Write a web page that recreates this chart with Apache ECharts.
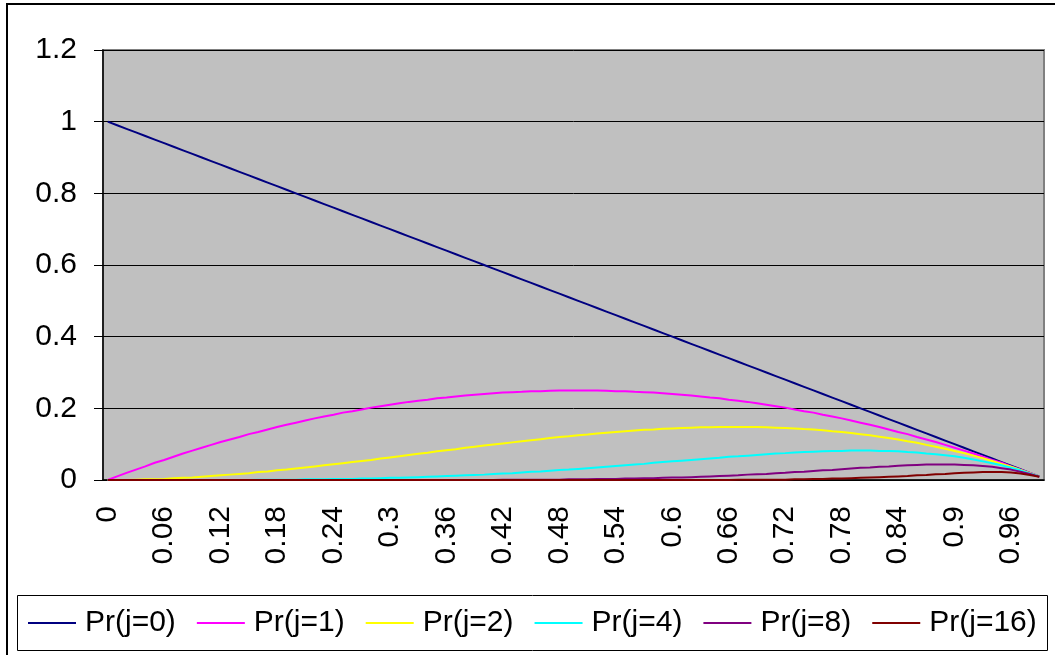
<!DOCTYPE html>
<html>
<head>
<meta charset="utf-8">
<script src="https://cdn.jsdelivr.net/npm/echarts@6/dist/echarts.min.js"></script>
<style>
    html, body { margin: 0; padding: 0; background: #fff; }
    #chart { width: 1055px; height: 655px; }
</style>
</head>
<body>
<div id="chart"></div>
<script>
// x categories
var cats = ['0', '0.01', '0.02', '0.03', '0.04', '0.05', '0.06', '0.07', '0.08', '0.09',
    '0.1', '0.11', '0.12', '0.13', '0.14', '0.15', '0.16', '0.17', '0.18', '0.19',
    '0.2', '0.21', '0.22', '0.23', '0.24', '0.25', '0.26', '0.27', '0.28', '0.29',
    '0.3', '0.31', '0.32', '0.33', '0.34', '0.35', '0.36', '0.37', '0.38', '0.39',
    '0.4', '0.41', '0.42', '0.43', '0.44', '0.45', '0.46', '0.47', '0.48', '0.49',
    '0.5', '0.51', '0.52', '0.53', '0.54', '0.55', '0.56', '0.57', '0.58', '0.59',
    '0.6', '0.61', '0.62', '0.63', '0.64', '0.65', '0.66', '0.67', '0.68', '0.69',
    '0.7', '0.71', '0.72', '0.73', '0.74', '0.75', '0.76', '0.77', '0.78', '0.79',
    '0.8', '0.81', '0.82', '0.83', '0.84', '0.85', '0.86', '0.87', '0.88', '0.89',
    '0.9', '0.91', '0.92', '0.93', '0.94', '0.95', '0.96', '0.97', '0.98', '0.99'];

var names = ['Pr(j=0)', 'Pr(j=1)', 'Pr(j=2)', 'Pr(j=4)', 'Pr(j=8)', 'Pr(j=16)'];
var colors = ['#000080', '#FF00FF', '#FFFF00', '#00FFFF', '#800080', '#800000'];

var pr0 = [1, 0.99, 0.98, 0.97, 0.96, 0.95, 0.94, 0.93, 0.92, 0.91,
    0.90, 0.89, 0.88, 0.87, 0.86, 0.85, 0.84, 0.83, 0.82, 0.81,
    0.80, 0.79, 0.78, 0.77, 0.76, 0.75, 0.74, 0.73, 0.72, 0.71,
    0.70, 0.69, 0.68, 0.67, 0.66, 0.65, 0.64, 0.63, 0.62, 0.61,
    0.60, 0.59, 0.58, 0.57, 0.56, 0.55, 0.54, 0.53, 0.52, 0.51,
    0.50, 0.49, 0.48, 0.47, 0.46, 0.45, 0.44, 0.43, 0.42, 0.41,
    0.40, 0.39, 0.38, 0.37, 0.36, 0.35, 0.34, 0.33, 0.32, 0.31,
    0.30, 0.29, 0.28, 0.27, 0.26, 0.25, 0.24, 0.23, 0.22, 0.21,
    0.20, 0.19, 0.18, 0.17, 0.16, 0.15, 0.14, 0.13, 0.12, 0.11,
    0.10, 0.09, 0.08, 0.07, 0.06, 0.05, 0.04, 0.03, 0.02, 0.01];

var pr1 = [0, 0.010, 0.020, 0.029, 0.038, 0.048, 0.056, 0.065, 0.074, 0.082,
    0.090, 0.098, 0.106, 0.113, 0.120, 0.128, 0.134, 0.141, 0.148, 0.154,
    0.160, 0.166, 0.172, 0.177, 0.182, 0.188, 0.192, 0.197, 0.202, 0.206,
    0.210, 0.214, 0.218, 0.221, 0.224, 0.228, 0.230, 0.233, 0.236, 0.238,
    0.240, 0.242, 0.244, 0.245, 0.246, 0.248, 0.248, 0.249, 0.250, 0.250,
    0.250, 0.250, 0.250, 0.249, 0.248, 0.248, 0.246, 0.245, 0.244, 0.242,
    0.240, 0.238, 0.236, 0.233, 0.230, 0.228, 0.224, 0.221, 0.218, 0.214,
    0.210, 0.206, 0.202, 0.197, 0.192, 0.188, 0.182, 0.177, 0.172, 0.166,
    0.160, 0.154, 0.148, 0.141, 0.134, 0.128, 0.120, 0.113, 0.106, 0.098,
    0.090, 0.082, 0.074, 0.065, 0.056, 0.048, 0.038, 0.029, 0.020, 0.010];

var pr2 = [0, 0, 0, 0.001, 0.002, 0.002, 0.003, 0.005, 0.006, 0.007,
    0.009, 0.011, 0.013, 0.015, 0.017, 0.019, 0.022, 0.024, 0.027, 0.029,
    0.032, 0.035, 0.038, 0.041, 0.044, 0.047, 0.050, 0.053, 0.056, 0.060,
    0.063, 0.066, 0.070, 0.073, 0.076, 0.080, 0.083, 0.086, 0.090, 0.093,
    0.096, 0.099, 0.102, 0.105, 0.108, 0.111, 0.114, 0.117, 0.120, 0.122,
    0.125, 0.127, 0.130, 0.132, 0.134, 0.136, 0.138, 0.140, 0.141, 0.143,
    0.144, 0.145, 0.146, 0.147, 0.147, 0.148, 0.148, 0.148, 0.148, 0.148,
    0.147, 0.146, 0.145, 0.144, 0.142, 0.141, 0.139, 0.136, 0.134, 0.131,
    0.128, 0.125, 0.121, 0.117, 0.113, 0.108, 0.104, 0.098, 0.093, 0.087,
    0.081, 0.075, 0.068, 0.061, 0.053, 0.045, 0.037, 0.028, 0.019, 0.010];

var pr4 = [0, 0, 0, 0, 0, 0, 0, 0, 0, 0,
    0, 0, 0, 0, 0, 0, 0.001, 0.001, 0.001, 0.001,
    0.001, 0.002, 0.002, 0.002, 0.003, 0.003, 0.003, 0.004, 0.004, 0.005,
    0.006, 0.006, 0.007, 0.008, 0.009, 0.010, 0.011, 0.012, 0.013, 0.014,
    0.015, 0.017, 0.018, 0.019, 0.021, 0.023, 0.024, 0.026, 0.028, 0.029,
    0.031, 0.033, 0.035, 0.037, 0.039, 0.041, 0.043, 0.045, 0.048, 0.050,
    0.052, 0.054, 0.056, 0.058, 0.060, 0.062, 0.065, 0.066, 0.068, 0.070,
    0.072, 0.074, 0.075, 0.077, 0.078, 0.079, 0.080, 0.081, 0.081, 0.082,
    0.082, 0.082, 0.081, 0.081, 0.080, 0.078, 0.077, 0.074, 0.072, 0.069,
    0.066, 0.062, 0.057, 0.052, 0.047, 0.041, 0.034, 0.027, 0.018, 0.010];

var pr8 = [0, 0, 0, 0, 0, 0, 0, 0, 0, 0,
    0, 0, 0, 0, 0, 0, 0, 0, 0, 0,
    0, 0, 0, 0, 0, 0, 0, 0, 0, 0,
    0, 0, 0, 0, 0, 0, 0, 0, 0, 0,
    0, 0, 0.001, 0.001, 0.001, 0.001, 0.001, 0.001, 0.001, 0.002,
    0.002, 0.002, 0.003, 0.003, 0.003, 0.004, 0.004, 0.005, 0.005, 0.006,
    0.007, 0.007, 0.008, 0.009, 0.010, 0.011, 0.012, 0.013, 0.015, 0.016,
    0.017, 0.019, 0.020, 0.022, 0.023, 0.025, 0.027, 0.028, 0.030, 0.032,
    0.034, 0.035, 0.037, 0.038, 0.040, 0.041, 0.042, 0.043, 0.043, 0.043,
    0.043, 0.042, 0.041, 0.039, 0.037, 0.033, 0.029, 0.023, 0.017, 0.009];

var pr16 = [0, 0, 0, 0, 0, 0, 0, 0, 0, 0,
    0, 0, 0, 0, 0, 0, 0, 0, 0, 0,
    0, 0, 0, 0, 0, 0, 0, 0, 0, 0,
    0, 0, 0, 0, 0, 0, 0, 0, 0, 0,
    0, 0, 0, 0, 0, 0, 0, 0, 0, 0,
    0, 0, 0, 0, 0, 0, 0, 0, 0, 0,
    0, 0, 0, 0, 0, 0, 0, 0.001, 0.001, 0.001,
    0.001, 0.001, 0.001, 0.002, 0.002, 0.003, 0.003, 0.004, 0.004, 0.005,
    0.006, 0.007, 0.008, 0.009, 0.010, 0.011, 0.013, 0.014, 0.016, 0.017,
    0.019, 0.020, 0.021, 0.022, 0.022, 0.022, 0.021, 0.018, 0.014, 0.009];

var values = [pr0, pr1, pr2, pr4, pr8, pr16];
var font = '"Liberation Sans", Arial, sans-serif';

var series = names.map(function (n, i) {
    return {
        name: n,
        type: 'line',
        symbol: 'none',
        data: values[i],
        lineStyle: { color: colors[i], width: 2 },
        itemStyle: { color: colors[i] }
    };
});

var chart = echarts.init(document.getElementById('chart'));
chart.setOption({
    animation: false,
    backgroundColor: '#fff',
    textStyle: { fontFamily: font },
    color: colors,
    grid: {
        left: 103,
        top: 50,
        right: 11,
        bottom: 175,
        show: true,
        backgroundColor: '#C0C0C0',
        borderColor: '#808080',
        borderWidth: 2
    },
    xAxis: {
        type: 'category',
        data: cats,
        boundaryGap: true,
        axisLine: { lineStyle: { color: '#000', width: 1.5 } },
        axisTick: { interval: 0, length: 8, lineStyle: { color: '#555' } },
        axisLabel: { interval: 5, rotate: 90, margin: 26, fontSize: 30, color: '#000', fontFamily: font },
        splitLine: { show: false }
    },
    yAxis: {
        type: 'value',
        min: 0,
        max: 1.2,
        interval: 0.2,
        axisLine: { show: true, lineStyle: { color: '#000', width: 1.5 } },
        axisTick: { show: true, length: 9, lineStyle: { color: '#000' } },
        axisLabel: { margin: 26, fontSize: 30, color: '#000', fontFamily: font },
        splitLine: { lineStyle: { color: '#000', width: 1 } }
    },
    legend: {
        data: names,
        left: 28,
        top: 608,
        padding: 0,
        icon: 'rect',
        itemWidth: 48,
        itemHeight: 2,
        itemGap: 21,
        textStyle: { fontSize: 30, color: '#000', fontFamily: font, padding: [0, 0, 0, 4] }
    },
    graphic: [
        {
            type: 'rect',
            shape: { x: 7, y: 4, width: 1100, height: 700 },
            style: { fill: 'none', stroke: '#000', lineWidth: 2 },
            silent: true
        },
        {
            type: 'rect',
            shape: { x: 17.5, y: 595.5, width: 1030, height: 55 },
            style: { fill: 'none', stroke: '#000', lineWidth: 1 },
            silent: true
        }
    ],
    series: series
});
</script>
</body>
</html>
